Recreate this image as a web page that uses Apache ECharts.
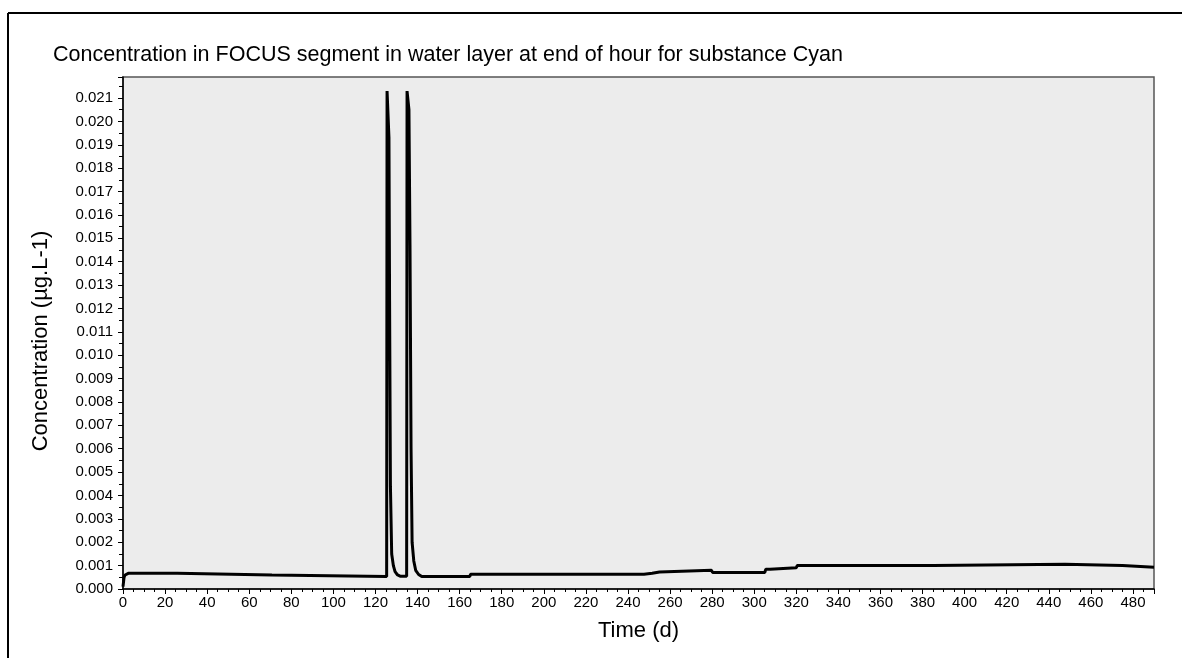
<!DOCTYPE html>
<html>
<head>
<meta charset="utf-8">
<script src="https://cdn.jsdelivr.net/npm/echarts@6/dist/echarts.min.js"></script>
<style>
  html, body { margin: 0; padding: 0; background: #fff; }
  #chart { width: 1182px; height: 658px; }
</style>
</head>
<body>
<div id="chart"></div>
<script>
// Time (days)
var days = [
  0, 0.5, 1, 2.5, 25.7, 25.9, 70.8, 71.0,
  125.3, 125.5, 125.9, 126.4, 126.7, 127.1, 127.7, 128.5, 129.3, 130.5, 131.7,
  134.8, 135.0, 135.5, 135.9, 136.4, 136.9, 137.4, 138.2, 139.1, 140.5, 142.0,
  164.8, 165.2, 247.6, 248.0, 251.5, 252.0, 255.0, 255.5, 279.7, 280.2,
  305.0, 305.5, 307.5, 308.0, 320.0, 320.5, 385.0, 385.5, 447.7, 448.2,
  475.0, 475.5, 490
];
// Concentration (µg.L-1)
var conc = [
  0.0001, 0.0005, 0.0006, 0.00067, 0.00067, 0.0006, 0.0006, 0.00053,
  0.00053, 0.0213, 0.0213, 0.0193, 0.0123, 0.0044, 0.0015, 0.0010, 0.00074, 0.00060, 0.00055,
  0.00055, 0.0213, 0.0213, 0.0205, 0.0147, 0.0060, 0.0020, 0.0012, 0.0008, 0.00062, 0.00053,
  0.00053, 0.00063, 0.00063, 0.00067, 0.00067, 0.00073, 0.00073, 0.00080, 0.00080, 0.00071,
  0.00071, 0.00084, 0.00084, 0.00091, 0.00091, 0.00101, 0.00101, 0.00106, 0.00106, 0.00100,
  0.00100, 0.00093, 0.00093
];

var titleText = 'Concentration in FOCUS segment in water layer at end of hour for substance Cyan';
var xName = 'Time (d)';
var yName = 'Concentration (µg.L-1)';

var pts = days.map(function (d, i) { return [d, conc[i]]; });
var FONT = 'Liberation Sans, Arial, sans-serif';

var chart = echarts.init(document.getElementById('chart'), null, { renderer: 'canvas' });
chart.setOption({
  animation: false,
  backgroundColor: '#ffffff',
  title: {
    text: titleText,
    left: 48, top: 39,
    textStyle: { fontFamily: FONT, fontSize: 21.5, fontWeight: 'normal', color: '#000' }
  },
  graphic: [
    { type: 'line', shape: { x1: 8, y1: 13, x2: 1182, y2: 13 }, style: { stroke: '#000', lineWidth: 2 } },
    { type: 'line', shape: { x1: 8, y1: 13, x2: 8, y2: 658 }, style: { stroke: '#000', lineWidth: 2 } }
  ],
  grid: {
    left: 123, top: 77, right: 28, bottom: 69,
    show: true, backgroundColor: '#ececec', borderColor: '#555', borderWidth: 1.5
  },
  xAxis: {
    type: 'value', min: 0, max: 490, interval: 20,
    name: xName, nameLocation: 'middle', nameGap: 31,
    nameTextStyle: { fontFamily: FONT, fontSize: 22, color: '#000' },
    axisLine: { show: true, lineStyle: { color: '#000', width: 1.5 } },
    axisTick: { show: true, length: 5, lineStyle: { color: '#000' } },
    minorTick: { show: true, splitNumber: 4, length: 3, lineStyle: { color: '#000' } },
    splitLine: { show: false },
    axisLabel: {
      fontFamily: FONT, fontSize: 15, color: '#000', margin: 6,
      formatter: function (v) { return (v % 20 === 0) ? String(v) : ''; }
    }
  },
  yAxis: {
    type: 'value', min: 0, max: 0.0219, interval: 0.001,
    name: yName, nameLocation: 'middle', nameGap: 71, nameRotate: 90,
    nameTextStyle: { fontFamily: FONT, fontSize: 22, color: '#000', padding: [0, 16, 0, 0] },
    axisLine: { show: true, lineStyle: { color: '#000', width: 1.5 } },
    axisTick: { show: true, length: 5, lineStyle: { color: '#000' } },
    minorTick: { show: true, splitNumber: 2, length: 4, lineStyle: { color: '#000' } },
    splitLine: { show: false },
    axisLabel: {
      fontFamily: FONT, fontSize: 15, color: '#000', margin: 10,
      formatter: function (v) {
        var k = v * 1000;
        if (Math.abs(k - Math.round(k)) > 1e-6) return '';
        return v.toFixed(3);
      }
    }
  },
  series: [{
    type: 'line',
    data: pts,
    showSymbol: false,
    lineStyle: { color: '#000', width: 3 },
    itemStyle: { color: '#000' }
  }]
});
</script>
</body>
</html>
